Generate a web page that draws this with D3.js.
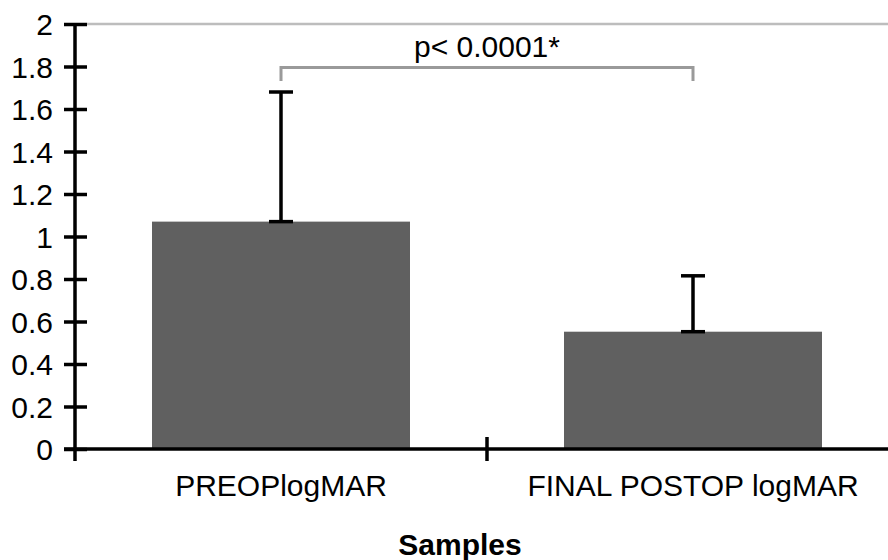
<!DOCTYPE html>
<html><head><meta charset="utf-8">
<script src="https://cdn.jsdelivr.net/npm/d3@7"></script>
<style>body{margin:0;background:#fff}svg{display:block}text{font-family:"Liberation Sans",Arial,sans-serif}</style>
</head><body>
<svg id="c" width="888" height="560"></svg>
<script>
const categories = ["PREOPlogMAR", "FINAL POSTOP logMAR"];
const means = [1.07, 0.552];
const upperErr = [1.68, 0.815];
const yTicks = [0, 0.2, 0.4, 0.6, 0.8, 1, 1.2, 1.4, 1.6, 1.8, 2];
const pLabel = "p< 0.0001*";
const xTitle = "Samples";

const svg = d3.select("#c");
const x0 = 75, step = 412;
const x = d3.scaleBand().domain(categories).range([x0, x0 + step * categories.length]).padding(0);
const y = d3.scaleLinear().domain([0, 2]).range([449, 24]);
const barW = 258;

// top gray line
svg.append("line").attr("x1", 87).attr("x2", 888).attr("y1", y(2)).attr("y2", y(2))
  .attr("stroke", "#bdbdbd").attr("stroke-width", 2.5);

// bars
svg.selectAll("rect.bar").data(categories).join("rect")
  .attr("x", d => x(d) + x.bandwidth() / 2 - barW / 2)
  .attr("width", barW)
  .attr("y", (d, i) => y(means[i]))
  .attr("height", (d, i) => y(0) - y(means[i]))
  .attr("fill", "#606060");

// error bars
const eb = svg.append("g").attr("stroke", "#000").attr("stroke-width", 3.5);
categories.forEach((c, i) => {
  const cx = x(c) + x.bandwidth() / 2;
  eb.append("line").attr("x1", cx).attr("x2", cx).attr("y1", y(means[i])).attr("y2", y(upperErr[i]));
  eb.append("line").attr("x1", cx - 12).attr("x2", cx + 12).attr("y1", y(upperErr[i])).attr("y2", y(upperErr[i]));
  eb.append("line").attr("x1", cx - 12).attr("x2", cx + 12).attr("y1", y(means[i])).attr("y2", y(means[i]));
});

// significance bracket
const c1 = x(categories[0]) + x.bandwidth() / 2, c2 = x(categories[1]) + x.bandwidth() / 2;
svg.append("path")
  .attr("d", `M${c1},${y(1.732)}V${y(1.795)}H${c2}V${y(1.732)}`)
  .attr("fill", "none").attr("stroke", "#9a9a9a").attr("stroke-width", 3);
svg.append("text").attr("x", (c1 + c2) / 2).attr("y", 57).attr("text-anchor", "middle")
  .attr("font-size", 30).text(pLabel);

// y axis
const yAxis = d3.axisLeft(y).tickValues(yTicks).tickFormat(d3.format("~g")).tickSize(0).tickPadding(22);
const ga = svg.append("g").attr("transform", `translate(${x0},0)`).call(yAxis);
ga.select(".domain").remove();
ga.selectAll("text").attr("font-size", 30).attr("fill", "#000").attr("font-family", '"Liberation Sans",Arial,sans-serif').attr("dy", "0.36em");
ga.selectAll(".tick").append("line").attr("x1", -11).attr("x2", 12).attr("stroke", "#000").attr("stroke-width", 3.5);
svg.append("line").attr("x1", x0).attr("x2", x0).attr("y1", y(2)).attr("y2", 461).attr("stroke", "#000").attr("stroke-width", 3.5);

// x axis
svg.append("line").attr("x1", 64).attr("x2", 888).attr("y1", y(0)).attr("y2", y(0)).attr("stroke", "#000").attr("stroke-width", 3.5);
svg.append("line").attr("x1", x0 + step).attr("x2", x0 + step).attr("y1", 437).attr("y2", 461).attr("stroke", "#000").attr("stroke-width", 3.5);
svg.selectAll("text.cat").data(categories).join("text").attr("class", "cat")
  .attr("x", d => x(d) + x.bandwidth() / 2).attr("y", 496).attr("text-anchor", "middle")
  .attr("font-size", 30).text(d => d);

svg.append("text").attr("x", 460).attr("y", 555).attr("text-anchor", "middle")
  .attr("font-size", 30).attr("font-weight", "bold").text(xTitle);
</script>
</body></html>
